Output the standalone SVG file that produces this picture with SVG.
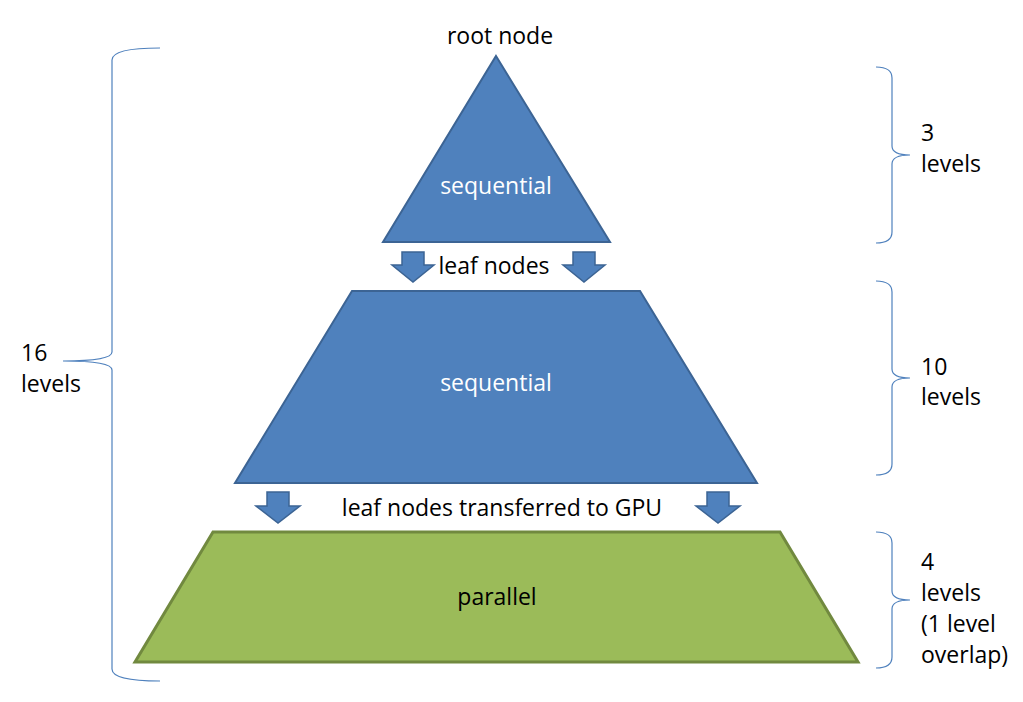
<svg xmlns="http://www.w3.org/2000/svg" width="1023" height="702" viewBox="0 0 1023 702">
<style>
.blue{fill:#4f81bd;stroke:#3c6494;stroke-width:2;stroke-linejoin:miter}
.green{fill:#9bbb59;stroke:#71893f;stroke-width:3}
.arrow{fill:#4f81bd;stroke:#3c6494;stroke-width:1.5}
.brace{fill:none;stroke:#4f81bd;stroke-width:1.2}
text{font-family:"Open Sans","Noto Sans",sans-serif;font-size:23px;fill:#000}
.w{fill:#fff}
</style>
<rect width="1023" height="702" fill="#fff"/>
<g id="top-triangle">
<polygon class="blue" points="496,56 610,242 383,242"/>
<text class="w" x="496" y="194" text-anchor="middle">sequential</text>
</g>
<g id="root-label"><text x="500" y="44" text-anchor="middle">root node</text></g>
<g id="mid-trapezoid">
<polygon class="blue" points="352,291 640,291 757,483 235,483"/>
<text class="w" x="496" y="391" text-anchor="middle">sequential</text>
</g>
<g id="bottom-trapezoid">
<polygon class="green" points="213,532 780,532 858,662 135,662"/>
<text x="497" y="605" text-anchor="middle">parallel</text>
</g>
<g id="connectors">
<polygon class="arrow" points="402,252 424,252 424,265 434,265 413,282 392,265 402,265"/>
<polygon class="arrow" points="573,252 595,252 595,265 605,265 584,282 563,265 573,265"/>
<polygon class="arrow" points="267,492 289,492 289,506 300,506 278,523 256,506 267,506"/>
<polygon class="arrow" points="707,492 729,492 729,506 740,506 718,523 696,506 707,506"/>
</g>
<g id="leaf-labels">
<text x="494" y="274" text-anchor="middle">leaf nodes</text>
<text x="502" y="516" text-anchor="middle">leaf nodes transferred to GPU</text>
</g>
<g id="brace-3">
<path class="brace" d="M876,67 Q892,67 892,78 L892,146 Q892,155 910,155 Q892,155 892,164 L892,232 Q892,243 876,243"/>
<text x="921" y="141">3</text><text x="921" y="172">levels</text>
</g>
<g id="brace-10">
<path class="brace" d="M876,281 Q892,281 892,292 L892,369 Q892,378 910,378 Q892,378 892,387 L892,464 Q892,475 876,475"/>
<text x="921" y="375">10</text><text x="921" y="405">levels</text>
</g>
<g id="brace-4">
<path class="brace" d="M876,532 Q892,532 892,543 L892,591 Q892,600 910,600 Q892,600 892,609 L892,657 Q892,668 876,668"/>
<text x="921" y="570">4</text><text x="921" y="601">levels</text><text x="921" y="632">(1 level</text><text x="921" y="663">overlap)</text>
</g>
<g id="brace-16">
<path class="brace" d="M160,48 Q112,48 112,60 L112,352 Q112,361 63,361 Q112,361 112,370 L112,669 Q112,681 160,681"/>
<text x="21" y="361">16</text><text x="21" y="392">levels</text>
</g>
</svg>
